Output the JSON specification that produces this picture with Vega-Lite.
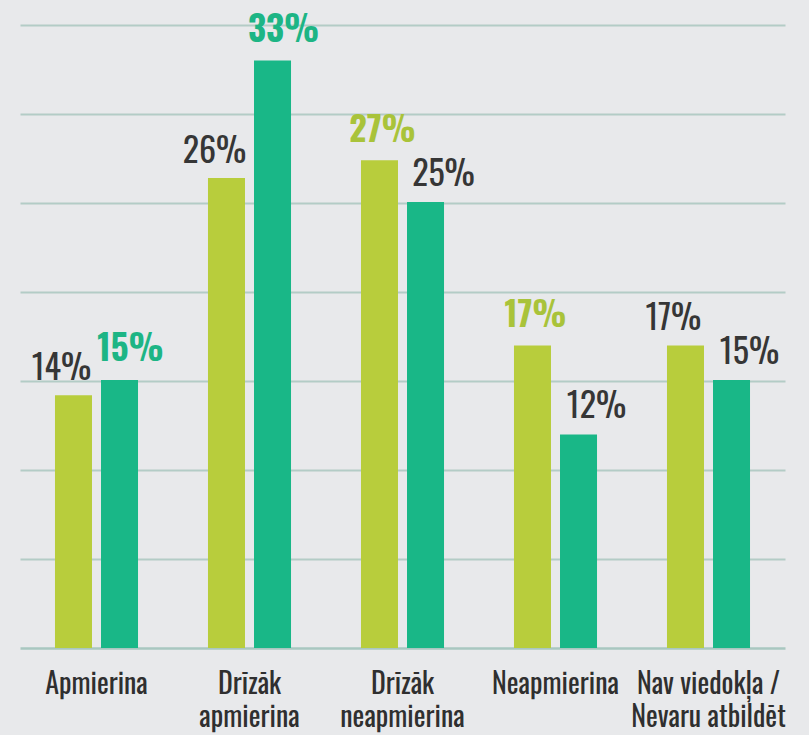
{
  "$schema": "https://vega.github.io/schema/vega-lite/v6.json",
  "width": 788,
  "height": 623,
  "autosize": {"type": "none"},
  "padding": {"left": 12, "top": 25, "right": 9, "bottom": 87},
  "background": "#e8e9eb",
  "config": {
    "view": {"stroke": null},
    "font": "Oswald, 'Roboto Condensed', 'Noto Sans ExtraCondensed', 'Open Sans Condensed', 'DejaVu Sans Condensed'"
  },
  "data": {
    "values": [
      {"category": "Apmierina", "series": "A", "value": 14.2, "label": "14%", "highlight": false},
      {"category": "Apmierina", "series": "B", "value": 15.05, "label": "15%", "highlight": true},
      {"category": "Drīzāk\napmierina", "series": "A", "value": 26.4, "label": "26%", "highlight": false},
      {"category": "Drīzāk\napmierina", "series": "B", "value": 33.0, "label": "33%", "highlight": true},
      {"category": "Drīzāk\nneapmierina", "series": "A", "value": 27.4, "label": "27%", "highlight": true},
      {"category": "Drīzāk\nneapmierina", "series": "B", "value": 25.05, "label": "25%", "highlight": false},
      {"category": "Neapmierina", "series": "A", "value": 17.0, "label": "17%", "highlight": true},
      {"category": "Neapmierina", "series": "B", "value": 12.0, "label": "12%", "highlight": false},
      {"category": "Nav viedokļa /\nNevaru atbildēt", "series": "A", "value": 17.0, "label": "17%", "highlight": false},
      {"category": "Nav viedokļa /\nNevaru atbildēt", "series": "B", "value": 15.05, "label": "15%", "highlight": false}
    ]
  },
  "encoding": {
    "x": {
      "field": "category",
      "type": "nominal",
      "sort": null,
      "scale": {"paddingInner": 0, "paddingOuter": 0, "range": [8, 773]},
      "axis": {
        "title": null,
        "labelAngle": 0,
        "labelExpr": "split(datum.label, '\\n')",
        "labelFontSize": 28,
        "labelLineHeight": 33,
        "labelColor": "#2f2f2f",
        "labelPadding": 23,
        "labelOverlap": false,
        "ticks": false,
        "tickSize": 0,
        "domainColor": "#a9c7c0",
        "domainWidth": 2.5,
        "labelBaseline": "top"
      }
    },
    "xOffset": {
      "field": "series",
      "type": "nominal",
      "scale": {"paddingInner": 0.196, "paddingOuter": 0.76}
    },
    "y": {
      "field": "value",
      "type": "quantitative",
      "scale": {"domain": [0, 35], "nice": false},
      "axis": {
        "title": null,
        "values": [5, 10, 15, 20, 25, 30, 35],
        "labels": false,
        "ticks": false,
        "domain": false,
        "grid": true,
        "gridColor": "#b3ccc6",
        "gridWidth": 2
      }
    }
  },
  "layer": [
    {
      "mark": {"type": "bar"},
      "encoding": {
        "color": {
          "field": "series",
          "type": "nominal",
          "scale": {"domain": ["A", "B"], "range": ["#b8cd3c", "#19b787"]},
          "legend": null
        }
      }
    },
    {
      "transform": [{"filter": "datum.series == 'A' && !datum.highlight"}],
      "mark": {"type": "text", "baseline": "alphabetic", "dy": -15, "dx": -12, "fontSize": 34, "color": "#363636"},
      "encoding": {"text": {"field": "label"}}
    },
    {
      "transform": [{"filter": "datum.series == 'A' && datum.highlight"}],
      "mark": {"type": "text", "baseline": "alphabetic", "dy": -18, "dx": 3, "fontSize": 34, "fontWeight": "bold", "color": "#a9c33a"},
      "encoding": {"text": {"field": "label"}}
    },
    {
      "transform": [{"filter": "datum.series == 'B' && !datum.highlight"}],
      "mark": {"type": "text", "baseline": "alphabetic", "dy": -16, "dx": 18, "fontSize": 34, "color": "#363636"},
      "encoding": {"text": {"field": "label"}}
    },
    {
      "transform": [{"filter": "datum.series == 'B' && datum.highlight"}],
      "mark": {"type": "text", "baseline": "alphabetic", "dy": -19, "dx": 11, "fontSize": 35, "fontWeight": "bold", "color": "#1db585"},
      "encoding": {"text": {"field": "label"}}
    }
  ]
}
